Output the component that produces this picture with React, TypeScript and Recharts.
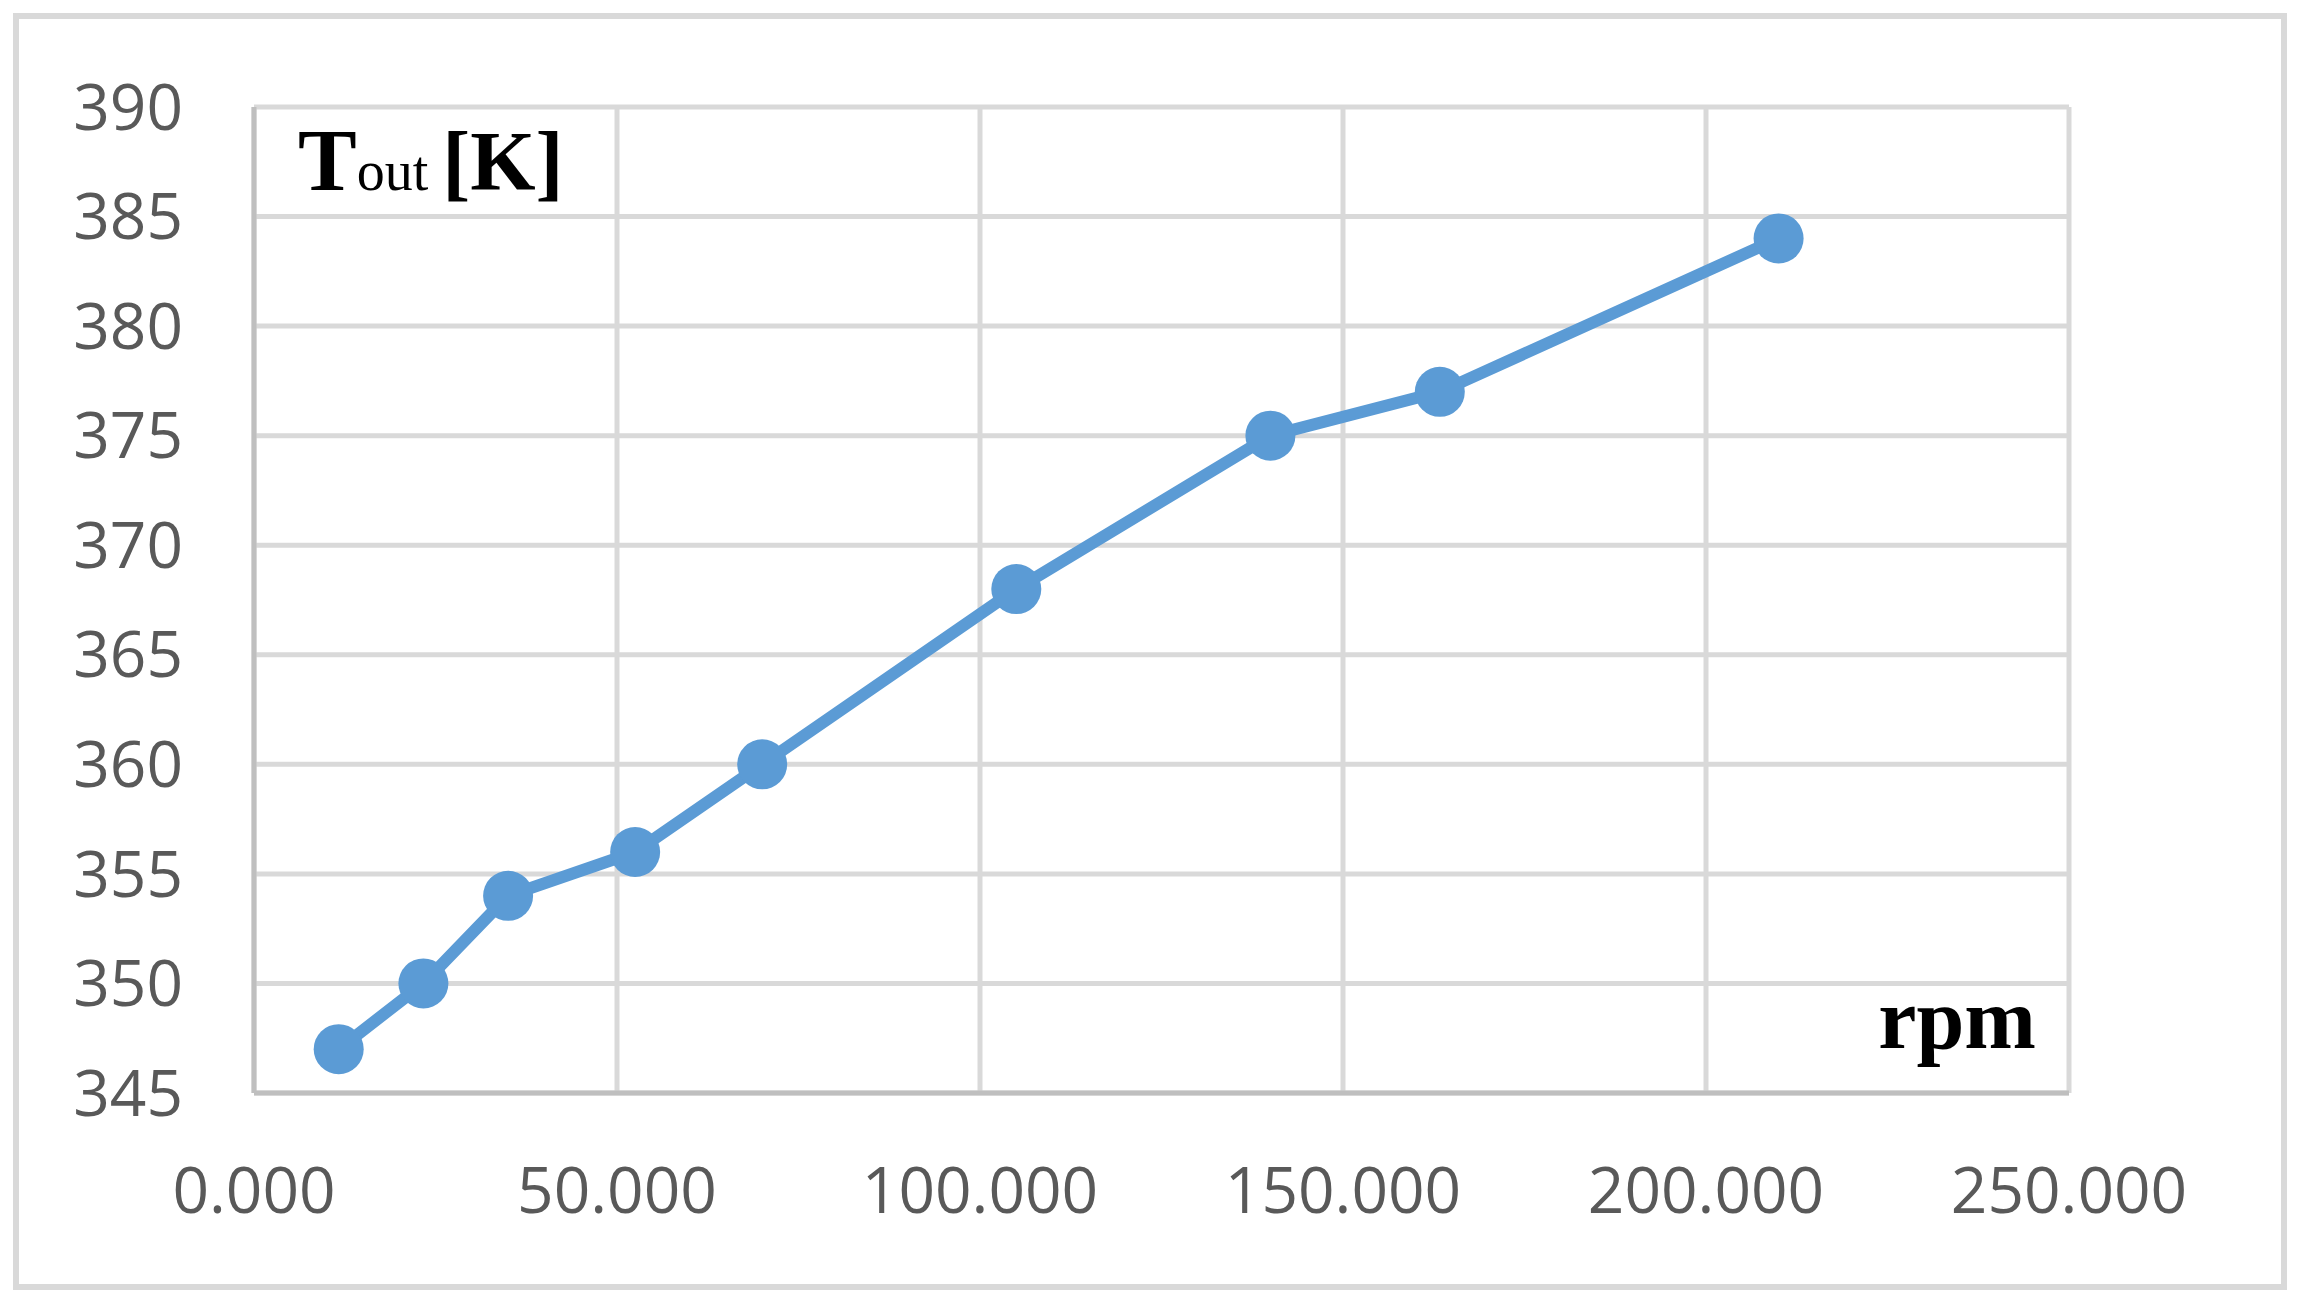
import React from 'react';
import { LineChart, Line, XAxis, YAxis, CartesianGrid } from 'recharts';

const rpmValues = [11667, 23333, 35000, 52500, 70000, 105000, 140000, 163333, 210000];
const toutValues = [347, 350, 354, 356, 360, 368, 375, 377, 384];
const xTicks = [0, 50000, 100000, 150000, 200000, 250000];
const yTicks = [345, 350, 355, 360, 365, 370, 375, 380, 385, 390];

const data = rpmValues.map((x, i) => ({ x, y: toutValues[i] }));

const fmtX = (v: number) => `${Math.round(v / 1000)}.000`;

const W = 2309;
const H = 1311;

export default function App() {
  const tickStyle = { fontFamily: '"Open Sans", sans-serif', fontSize: 64, fill: '#595959' };
  return (
    <div style={{ position: 'absolute', left: 0, top: 0, width: W, height: H, background: '#fff' }}>
      <div
        style={{
          position: 'absolute',
          left: 13,
          top: 13,
          width: 2274,
          height: 1277,
          border: '6px solid #d9d9d9',
          boxSizing: 'border-box',
        }}
      />
      <div style={{ position: 'absolute', left: 0, top: 0 }}>
        <LineChart width={W} height={H} data={data} margin={{ top: 107, right: 240, bottom: 98, left: 0 }}>
          <CartesianGrid stroke="#d9d9d9" strokeWidth={5} />
          <XAxis
            dataKey="x"
            type="number"
            domain={[0, 250000]}
            ticks={xTicks}
            tickFormatter={fmtX}
            height={120}
            tickSize={0}
            tickMargin={75}
            axisLine={{ stroke: '#bfbfbf', strokeWidth: 5 }}
            tickLine={false}
            tick={tickStyle}
            interval={0}
          />
          <YAxis
            type="number"
            domain={[345, 390]}
            ticks={yTicks}
            width={254}
            tickSize={0}
            tickMargin={71}
            axisLine={{ stroke: '#bfbfbf', strokeWidth: 5 }}
            tickLine={false}
            tick={tickStyle}
            interval={0}
          />
          <Line
            type="linear"
            dataKey="y"
            stroke="#5b9bd5"
            strokeWidth={12}
            dot={{ r: 25, fill: '#5b9bd5', stroke: 'none' }}
            activeDot={false}
            isAnimationActive={false}
          />
        </LineChart>
      </div>
      <svg
        width={W}
        height={H}
        style={{ position: 'absolute', left: 0, top: 0, pointerEvents: 'none' }}
      >
        <text x={298} y={190} fontFamily='"Liberation Serif", serif' fill="#000">
          <tspan fontSize={88} fontWeight="bold">T</tspan>
          <tspan fontSize={56} dx={0}>out</tspan>
          <tspan fontSize={84} fontWeight="bold" dx={14}>[K]</tspan>
        </text>
        <text
          x={2036}
          y={1048}
          textAnchor="end"
          fontFamily='"Liberation Serif", serif'
          fontWeight="bold"
          fontSize={86}
          fill="#000"
        >
          rpm
        </text>
      </svg>
    </div>
  );
}
